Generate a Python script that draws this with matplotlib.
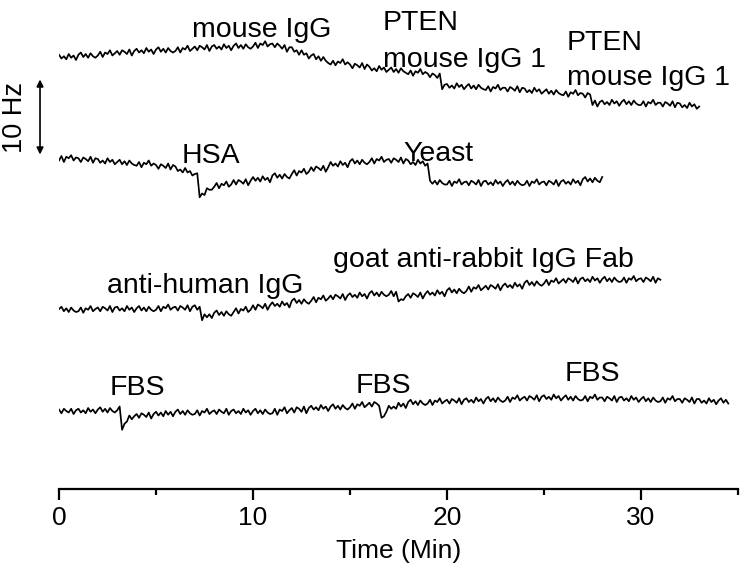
"""Stacked sensor traces: frequency shift vs time for each injection series."""

from __future__ import annotations

from pathlib import Path

import matplotlib

matplotlib.use("Agg")
import matplotlib.pyplot as plt
import numpy as np

SAMPLE_MIN = 0.125  # one reading every 7.5 s, 8 readings per row below

# frequency shift (Hz) relative to the start of each run
mouse_igg_shift = [
    0.4, -0.1, 0.2, -0.2, 0.5, 0.0, 0.3, -0.3,
    0.4, 0.7, 0.1, 0.5, 0.0, 0.6, 0.2, 0.0,
    0.3, 0.8, 0.1, 0.7, 0.5, 1.0, 0.3, 0.6,
    0.9, 0.4, 1.0, 0.8, 0.5, 1.1, 0.3, 0.9,
    1.2, 0.7, 1.0, 0.6, 1.3, 0.8, 1.1, 0.5,
    1.1, 1.4, 0.8, 1.2, 0.7, 1.3, 0.9, 0.7,
    0.9, 1.4, 0.7, 1.3, 1.1, 1.6, 0.9, 1.2,
    1.5, 1.0, 1.6, 1.4, 1.1, 1.7, 0.9, 1.5,
    1.7, 1.2, 1.5, 1.1, 1.8, 1.3, 1.6, 1.0,
    1.6, 1.9, 1.3, 1.7, 1.2, 1.8, 1.4, 1.2,
    1.5, 2.0, 1.3, 1.9, 1.7, 2.2, 1.5, 1.8,
    1.9, 1.4, 1.9, 1.6, 1.2, 1.7, 0.8, 1.4,
    1.4, 0.8, 1.0, 0.4, 1.0, 0.4, 0.6, -0.1,
    0.3, 0.5, -0.2, 0.2, -0.4, 0.1, -0.4, -0.7,
    -0.9, -0.4, -1.0, -0.5, -0.7, -0.2, -0.9, -0.6,
    -0.9, -1.4, -0.8, -1.0, -1.3, -0.7, -1.5, -0.9,
    -1.2, -1.7, -1.4, -1.8, -1.1, -1.6, -1.3, -1.9,
    -1.6, -1.3, -1.9, -1.5, -2.0, -1.4, -1.8, -2.0,
    -2.2, -1.7, -2.4, -1.8, -2.0, -1.5, -2.2, -1.9,
    -2.1, -2.6, -2.1, -2.3, -2.7, -2.1, -4.2, -3.6,
    -3.5, -4.0, -3.7, -4.1, -3.4, -3.9, -3.6, -4.2,
    -3.8, -3.5, -4.1, -3.7, -4.2, -3.6, -4.0, -4.2,
    -4.3, -3.8, -4.5, -3.9, -4.1, -3.6, -4.3, -4.0,
    -4.0, -4.5, -3.9, -4.1, -4.4, -3.8, -4.6, -4.0,
    -4.1, -4.6, -4.3, -4.7, -4.0, -4.5, -4.2, -4.8,
    -4.5, -4.2, -4.8, -4.4, -4.9, -4.3, -4.7, -4.9,
    -5.0, -4.5, -5.2, -4.6, -4.8, -4.3, -5.0, -4.7,
    -4.8, -5.3, -4.7, -4.9, -6.3, -5.7, -6.5, -5.9,
    -5.7, -6.2, -5.9, -6.3, -5.6, -6.1, -5.8, -6.4,
    -5.9, -5.6, -6.2, -5.8, -6.3, -5.7, -6.1, -6.3,
    -6.3, -5.8, -6.5, -5.9, -6.1, -5.6, -6.3, -6.0,
    -6.0, -6.5, -5.9, -6.1, -6.4, -5.8, -6.6, -6.0,
    -6.1, -6.6, -6.3, -6.7, -6.0, -6.5, -6.2, -6.8,
    -6.5,
]
hsa_yeast_shift = [
    -0.3, 0.3, -0.5, 0.2, 0.0, 0.4, -0.3, 0.1,
    0.0, -0.5, 0.1, -0.1, -0.4, 0.2, -0.6, 0.0,
    -0.1, -0.6, -0.3, -0.7, 0.0, -0.5, -0.2, -0.8,
    -0.5, -0.2, -0.8, -0.4, -0.9, -0.3, -0.7, -0.9,
    -1.0, -0.5, -1.2, -0.6, -0.8, -0.3, -1.0, -0.7,
    -0.9, -1.4, -0.8, -1.0, -1.3, -0.7, -1.5, -0.9,
    -1.1, -1.7, -1.5, -1.9, -1.3, -1.9, -1.7, -2.3,
    -2.1, -2.0, -5.2, -4.7, -4.9, -4.0, -4.2, -4.2,
    -3.8, -3.3, -4.0, -3.4, -3.6, -3.1, -3.8, -3.5,
    -2.9, -3.5, -2.9, -3.1, -3.4, -2.8, -3.6, -3.0,
    -2.5, -3.0, -2.6, -3.1, -2.4, -2.9, -2.6, -3.2,
    -2.3, -2.0, -2.6, -2.2, -2.7, -2.1, -2.5, -2.7,
    -2.1, -1.6, -2.3, -1.7, -1.9, -1.4, -2.1, -1.8,
    -1.2, -1.7, -1.1, -1.3, -1.6, -1.0, -1.8, -1.2,
    -0.5, -1.0, -0.7, -1.1, -0.4, -0.9, -0.6, -1.2,
    -0.4, -0.1, -0.7, -0.3, -0.8, -0.2, -0.6, -0.8,
    -0.5, 0.0, -0.7, -0.1, -0.3, 0.2, -0.5, -0.2,
    -0.1, -0.6, 0.0, -0.2, -0.5, 0.1, -0.7, -0.1,
    -0.3, -0.8, -0.5, -0.9, -0.2, -0.7, -0.4, -1.0,
    -0.7, -3.0, -3.4, -3.0, -3.5, -2.9, -3.3, -3.5,
    -3.5, -3.0, -3.7, -3.1, -3.3, -2.8, -3.5, -3.2,
    -3.1, -3.6, -3.0, -3.2, -3.5, -2.9, -3.7, -3.1,
    -3.0, -3.5, -3.2, -3.6, -2.9, -3.4, -3.1, -3.7,
    -3.2, -2.9, -3.5, -3.1, -3.6, -3.0, -3.4, -3.6,
    -3.5, -3.0, -3.7, -3.1, -3.3, -2.8, -3.5, -3.2,
    -3.1, -3.6, -3.0, -3.2, -3.5, -2.9, -3.7, -3.1,
    -2.9, -3.4, -3.1, -3.5, -2.8, -3.3, -3.0, -3.6,
    -2.8, -2.5, -3.1, -2.7, -3.2, -2.6, -3.0, -3.2,
    -2.5,
]
antibody_shift = [
    0.1, 0.4, -0.2, 0.2, -0.3, 0.3, -0.1, -0.3,
    -0.2, 0.3, -0.4, 0.2, 0.0, 0.5, -0.2, 0.1,
    0.3, -0.2, 0.4, 0.2, -0.1, 0.5, -0.3, 0.3,
    0.4, -0.1, 0.2, -0.2, 0.5, 0.0, 0.3, -0.3,
    0.2, 0.5, -0.1, 0.3, -0.2, 0.4, 0.0, -0.2,
    0.0, 0.5, -0.2, 0.4, 0.2, 0.7, 0.0, 0.3,
    0.4, -0.1, 0.5, 0.3, 0.0, 0.6, -0.2, 0.4,
    0.6, 0.0, 0.4, -1.4, -0.6, -1.0, -0.6, -1.1,
    -0.4, -0.1, -0.7, -0.3, -0.8, -0.2, -0.6, -0.8,
    -0.3, 0.2, -0.5, 0.1, -0.1, 0.4, -0.3, 0.0,
    0.6, 0.0, 0.7, 0.5, 0.2, 0.8, 0.0, 0.6,
    1.0, 0.5, 0.8, 0.4, 1.1, 0.6, 0.9, 0.3,
    1.2, 1.5, 0.9, 1.3, 0.8, 1.4, 1.0, 0.8,
    1.2, 1.7, 1.0, 1.6, 1.4, 1.9, 1.2, 1.5,
    1.9, 1.4, 2.0, 1.8, 1.5, 2.1, 1.3, 1.9,
    2.2, 1.7, 2.0, 1.6, 2.3, 1.8, 2.1, 1.5,
    2.2, 2.5, 1.9, 2.3, 1.8, 2.4, 2.0, 1.8,
    2.0, 2.5, 1.8, 2.4, 1.1, 1.4, 1.3, 1.8,
    2.1, 1.6, 2.2, 2.0, 1.7, 2.3, 1.5, 2.1,
    2.5, 2.0, 2.3, 1.9, 2.6, 2.1, 2.4, 1.8,
    2.6, 2.9, 2.3, 2.7, 2.2, 2.8, 2.4, 2.2,
    2.5, 3.1, 2.4, 3.0, 2.8, 3.3, 2.6, 2.9,
    3.2, 2.7, 3.3, 3.1, 2.8, 3.4, 2.6, 3.2,
    3.5, 3.0, 3.3, 2.9, 3.6, 3.1, 3.4, 2.8,
    3.6, 3.9, 3.3, 3.7, 3.2, 3.8, 3.4, 3.2,
    3.5, 4.0, 3.3, 3.9, 3.7, 4.2, 3.5, 3.8,
    4.1, 3.6, 4.2, 4.0, 3.7, 4.3, 3.5, 4.1,
    4.3, 3.8, 4.1, 3.7, 4.4, 3.9, 4.2, 3.6,
    4.1, 4.4, 3.8, 4.2, 3.7, 4.3, 3.9, 3.7,
    3.8, 4.3, 3.6, 4.2, 4.0, 4.5, 3.8, 4.1,
    4.2, 3.7, 4.3, 4.1, 3.8, 4.4, 3.6, 4.2,
    4.0,
]
fbs_shift = [
    0.3, -0.2, 0.4, 0.1, -0.1, 0.4, -0.3, 0.2,
    0.4, -0.1, 0.2, -0.2, 0.5, 0.0, 0.3, -0.2,
    0.3, 0.6, 0.0, 0.4, -0.1, 0.5, 0.1, -0.1,
    0.2, 0.7, -2.4, -1.6, -1.3, -0.5, -1.0, -0.6,
    -0.3, -0.8, -0.2, -0.4, -0.7, -0.1, -0.9, -0.3,
    0.0, -0.5, -0.1, -0.6, 0.1, -0.4, 0.0, -0.6,
    0.0, 0.3, -0.3, 0.1, -0.4, 0.2, -0.2, -0.4,
    -0.3, 0.2, -0.5, 0.1, -0.1, 0.4, -0.3, 0.0,
    0.2, -0.3, 0.3, 0.0, -0.2, 0.4, -0.4, 0.1,
    0.3, -0.2, 0.1, -0.3, 0.4, -0.1, 0.2, -0.4,
    0.1, 0.4, -0.2, 0.2, -0.3, 0.3, -0.1, -0.3,
    -0.2, 0.4, -0.4, 0.3, 0.1, 0.6, -0.2, 0.2,
    0.5, -0.1, 0.6, 0.4, 0.0, 0.7, -0.2, 0.5,
    0.8, 0.3, 0.6, 0.2, 0.9, 0.4, 0.7, 0.1,
    0.7, 1.0, 0.4, 0.8, 0.3, 0.9, 0.5, 0.3,
    0.6, 1.1, 0.4, 1.0, 0.8, 1.3, 0.6, 0.9,
    1.2, 0.7, 1.3, 1.1, 0.8, -0.8, -0.6, 0.0,
    0.8, 0.4, 0.7, 0.4, 1.2, 0.7, 1.1, 0.5,
    1.3, 1.6, 1.0, 1.4, 0.9, 1.5, 1.1, 0.9,
    1.1, 1.6, 0.9, 1.5, 1.3, 1.8, 1.1, 1.4,
    1.6, 1.1, 1.7, 1.5, 1.2, 1.8, 1.0, 1.6,
    1.8, 1.3, 1.6, 1.2, 1.9, 1.4, 1.7, 1.1,
    1.7, 2.0, 1.4, 1.8, 1.3, 1.9, 1.5, 1.3,
    1.5, 2.0, 1.3, 1.9, 1.7, 2.2, 1.5, 1.8,
    2.0, 1.5, 2.1, 1.9, 1.6, 2.2, 1.4, 2.0,
    2.2, 1.7, 2.0, 1.6, 2.3, 1.8, 2.1, 1.5,
    1.9, 2.2, 1.6, 2.0, 1.5, 2.1, 1.7, 1.5,
    1.6, 2.1, 1.4, 2.0, 1.8, 2.3, 1.6, 1.9,
    1.9, 1.4, 2.0, 1.8, 1.5, 2.1, 1.3, 1.9,
    2.0, 1.5, 1.8, 1.4, 2.1, 1.6, 1.9, 1.3,
    1.7, 2.0, 1.4, 1.8, 1.3, 1.9, 1.5, 1.3,
    1.4, 1.9, 1.2, 1.8, 1.6, 2.1, 1.4, 1.7,
    1.7, 1.2, 1.8, 1.6, 1.3, 1.9, 1.1, 1.7,
    1.7, 1.2, 1.5, 1.1, 1.8, 1.3, 1.6, 1.0,
    1.5, 1.8, 1.2, 1.6, 1.1,
]

# vertical stacking of the four runs (Hz)
trace_offsets = [57.5, 44.1, 23.9, 10.3]

# injection labels: text, time (min), height (Hz, text baseline)
injection_labels = [
    ("mouse IgG", 6.86, 60.3),
    ("PTEN", 16.7, 61.2),
    ("mouse IgG 1", 16.7, 56.3),
    ("PTEN", 26.19, 58.5),
    ("mouse IgG 1", 26.19, 53.9),
    ("HSA", 6.34, 43.5),
    ("Yeast", 17.73, 43.8),
    ("goat anti-rabbit IgG Fab", 14.12, 29.6),
    ("anti-human IgG", 2.47, 26.1),
    ("FBS", 2.63, 12.5),
    ("FBS", 15.3, 12.8),
    ("FBS", 26.08, 14.4),
]

x_ticks = [0, 10, 20, 30]
FONT = "Liberation Sans"


def plot_stacked_traces(output_path: str | Path) -> None:
    """Draw the four runs offset vertically with a 10 Hz scale bar."""

    figure = plt.figure(figsize=(7.5, 5.76), dpi=100)
    axis = figure.add_axes([0.0787, 0.151, 0.9053, 0.849])

    runs = [mouse_igg_shift, hsa_yeast_shift, antibody_shift, fbs_shift]
    for shift, offset in zip(runs, trace_offsets):
        minutes = np.arange(len(shift)) * SAMPLE_MIN
        axis.plot(minutes, np.asarray(shift) + offset, color="black", lw=1.25)

    for text, minute, hz in injection_labels:
        axis.text(minute, hz, text, ha="left", va="baseline",
                  fontsize=20.5, family=FONT)

    # scale bar
    axis.annotate("", xy=(-0.98, 44.6), xytext=(-0.98, 54.6),
                  arrowprops=dict(arrowstyle="<|-|>", color="black", lw=1.2,
                                  mutation_scale=10, shrinkA=0, shrinkB=0),
                  annotation_clip=False)
    axis.text(-2.27, 49.6, "10 Hz", rotation=90, ha="center", va="center",
              fontsize=19.5, family=FONT, clip_on=False)

    axis.set_xlim(0, 35)
    axis.set_ylim(0, 65.2)
    axis.set_xticks(x_ticks)
    axis.set_xticks([5, 15, 25, 35], minor=True)
    axis.set_yticks([])
    for side in ("top", "right", "left"):
        axis.spines[side].set_visible(False)
    axis.spines["bottom"].set_linewidth(1.6)
    axis.tick_params(axis="x", which="major", length=8, width=1.6, pad=4,
                     labelsize=19)
    axis.tick_params(axis="x", which="minor", length=4.5, width=1.6)
    for label in axis.get_xticklabels():
        label.set_family(FONT)
    axis.set_xlabel("Time (Min)", fontsize=19, family=FONT, labelpad=7)

    target = Path(output_path)
    target.parent.mkdir(parents=True, exist_ok=True)
    figure.savefig(target, dpi=100)
    plt.close(figure)


if __name__ == "__main__":
    plot_stacked_traces("out.png")
